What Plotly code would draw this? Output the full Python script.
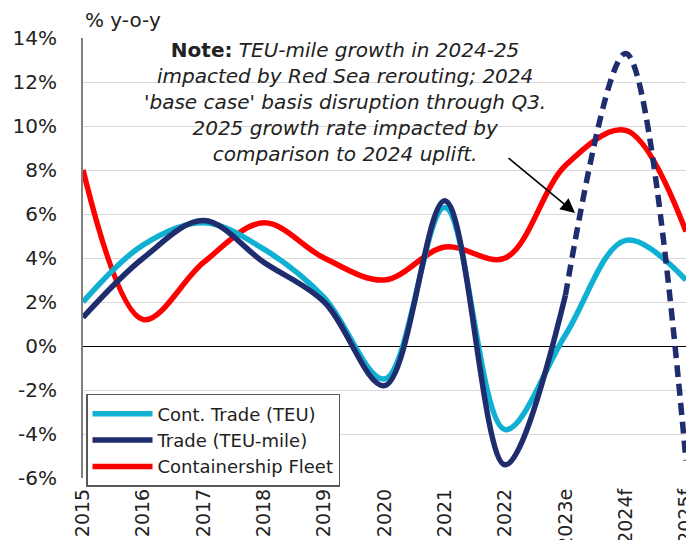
import plotly.graph_objects as go

years = ["2015", "2016", "2017", "2018", "2019", "2020", "2021", "2022", "2023e", "2024f", "2025f"]
cont_trade_teu = [2.0, 4.6, 5.6, 4.4, 2.2, -1.5, 6.3, -3.8, 0.5, 4.8, 3.0]
trade_teu_mile = [1.3, 4.0, 5.7, 3.8, 2.0, -1.8, 6.6, -5.4, 2.3, 13.3, -5.2]
fleet = [8.0, 1.2, 3.8, 5.6, 4.0, 3.0, 4.5, 4.0, 8.2, 9.8, 5.2]
solid_end = 9  # solid TEU-mile line covers first 9 points (through 2023e)

y_tickvals = [-6, -4, -2, 0, 2, 4, 6, 8, 10, 12, 14]
y_ticktext = ["-6%", "-4%", "-2%", "0%", "2%", "4%", "6%", "8%", "10%", "12%", "14%"]

C_LB = "#0FB0D2"
C_NAVY = "#1F2D6E"
C_RED = "#FF0000"
FONT = "DejaVu Sans"
TXT = "#222222"

fig = go.Figure()
fig.add_trace(go.Scatter(x=years, y=fleet, mode="lines", name="Containership Fleet",
                         line=dict(color=C_RED, width=5.5, shape="spline", smoothing=1.0),
                         legendrank=3))
fig.add_trace(go.Scatter(x=years, y=cont_trade_teu, mode="lines", name="Cont. Trade (TEU)",
                         line=dict(color=C_LB, width=5.5, shape="spline", smoothing=1.0),
                         legendrank=1))
fig.add_trace(go.Scatter(x=years[:solid_end], y=trade_teu_mile[:solid_end], mode="lines",
                         name="Trade (TEU-mile)",
                         line=dict(color=C_NAVY, width=5.5, shape="spline", smoothing=1.0),
                         legendrank=2))
fig.add_trace(go.Scatter(x=years[solid_end - 1:], y=trade_teu_mile[solid_end - 1:], mode="lines",
                         showlegend=False,
                         line=dict(color=C_NAVY, width=5.5, dash="12px,7px",
                                   shape="spline", smoothing=1.0)))

note = ("<b>Note:</b> <i>TEU-mile growth in 2024-25</i><br>"
        "<i>impacted by Red Sea rerouting; 2024</i><br>"
        "<i>'base case' basis disruption through Q3.</i><br>"
        "<i>2025 growth rate impacted by</i><br>"
        "<i>comparison to 2024 uplift.</i>")

# page body adds an 8px offset; figure is sized/margined to compensate
fig.update_layout(
    width=686, height=532,
    margin=dict(l=75, r=8, t=30, b=62),
    paper_bgcolor="white", plot_bgcolor="white",
    font=dict(family=FONT, size=20, color=TXT),
    showlegend=True,
    legend=dict(x=0.005, y=0.191, xanchor="left", yanchor="top",
                bgcolor="white", bordercolor="#595959", borderwidth=1.5,
                font=dict(size=18, color=TXT), tracegroupgap=0,
                traceorder="normal", itemwidth=60),
    xaxis=dict(type="category", range=[0, 10], tickangle=-90, automargin=False,
               showgrid=False, showline=False, ticks="", ticklabelstandoff=6,
               tickfont=dict(size=19, color=TXT)),
    yaxis=dict(range=[-6, 14], tickmode="array", tickvals=y_tickvals, ticktext=y_ticktext,
               automargin=False,
               showgrid=True, gridcolor="#d9d9d9", gridwidth=1,
               zeroline=True, zerolinecolor="#000000", zerolinewidth=1,
               showline=True, linecolor="#808080", linewidth=2,
               ticks="", ticklabelstandoff=20, tickfont=dict(size=20, color=TXT)),
    annotations=[
        dict(text="% y-o-y", xref="paper", yref="paper", x=0, y=1.0,
             xanchor="left", yanchor="bottom", yshift=4, showarrow=False,
             font=dict(size=20, color=TXT)),
        dict(text=note, xref="paper", yref="paper", x=(345 - 83) / 603, y=1.0,
             xanchor="center", yanchor="top", yshift=2, showarrow=False, align="center",
             font=dict(size=20, color=TXT)),
        dict(text="", xref="x", yref="y", x=8.16, y=6.05, axref="pixel", ayref="pixel",
             ax=-68, ay=-56, showarrow=True, arrowhead=2, arrowsize=1.8, arrowwidth=1.6,
             arrowcolor="#000000"),
    ],
)

fig.write_html("out.html")
